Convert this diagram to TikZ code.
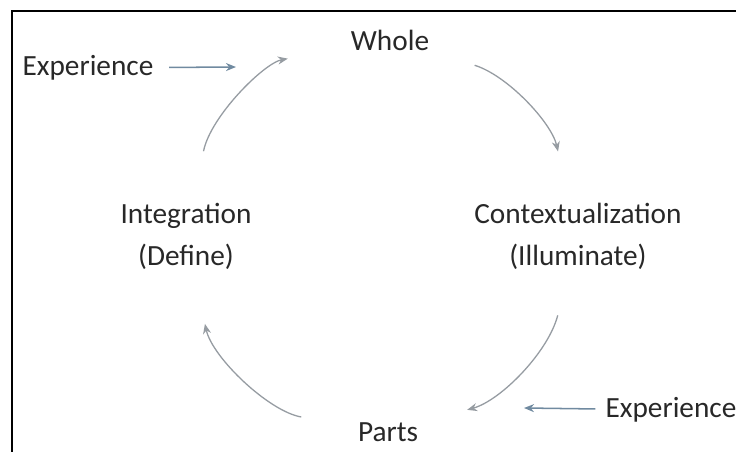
\documentclass[tikz,border=0pt]{standalone}
\usepackage{fontspec}
\setmainfont{Carlito}
\usetikzlibrary{arrows.meta}
\definecolor{txtgray}{RGB}{40,40,40}
\definecolor{arcgray}{RGB}{150,156,162}
\definecolor{expblue}{RGB}{112,138,160}
\tikzset{>={Stealth[length=3mm,width=2.4mm]}}

\begin{document}
\begin{tikzpicture}[x=0.03cm, y=0.03cm,
    lbl/.style={text=txtgray, font=\fontsize{25}{36}\selectfont, align=center},
    cyc/.style={arcgray, line width=1.1pt, ->},
    feed/.style={expblue, line width=1.3pt, ->}]
    \useasboundingbox (0,0) rectangle (736,452);
    \draw[line width=2.4pt] (12,0) |- (736,441);
    % the four stages
    \node[lbl] (whole) at (390,412) {Whole};
    \node[lbl] (contx) at (578,216) {Contextualization\\(Illuminate)};
    \node[lbl] (parts) at (388,20) {Parts};
    \node[lbl] (integ) at (186,216) {Integration\\(Define)};
    % experience coming in
    \node[lbl] (exp1) at (88,384) {Experience};
    \node[lbl] (exp2) at (671,42) {Experience};
    \coordinate (in1) at (236,385);
    \coordinate (in2) at (524,44);
    \draw[cyc, shorten <=1.3cm, shorten >=1.45cm] (whole) to [bend left=30] (contx);
    \draw[cyc, shorten <=1.3cm, shorten >=1.4cm] (contx) to [bend left=30] (parts);
    \draw[cyc, shorten <=1.6cm, shorten >=1.55cm] (parts) to [bend left=34] (integ);
    \draw[cyc, shorten <=1.45cm, shorten >=1.8cm] (integ) to [bend left=34] (whole);
    \draw[feed, shorten <=0.35cm] (exp1) -- (in1);
    \draw[feed, shorten <=0.18cm] (exp2) -- (in2);
\end{tikzpicture}
\end{document}
